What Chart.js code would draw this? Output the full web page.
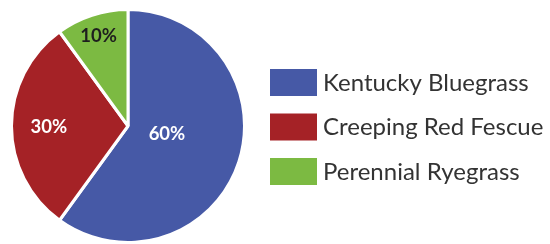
<!DOCTYPE html>
<html>
<head>
<meta charset="utf-8">
<script src="https://cdn.jsdelivr.net/npm/chart.js@4/dist/chart.umd.min.js"></script>
<style>
  html, body { margin: 0; padding: 0; background: #fff; }
  #wrap { width: 550px; height: 244px; }
</style>
</head>
<body>
<div id="wrap"><canvas id="grassChart" width="550" height="244"></canvas></div>
<script>
// 草种比例
const grassTypes = ['Kentucky Bluegrass', 'Creeping Red Fescue', 'Perennial Ryegrass'];
const grassShares = [60, 30, 10];
const sliceColors = ['#4659a6', '#a52226', '#7cba42'];

// 切片标签: 半径比例 / 角度微调 / 文字颜色
const labelRadius = [0.34, 0.68, 0.82];
const labelAngleShift = [-0.13, 0, 0];
const labelColors = ['#ffffff', '#ffffff', '#1e1e1e'];

const sliceLabels = {
    id: 'sliceLabels',
    afterDatasetsDraw(chart) {
        const ctx = chart.ctx;
        const meta = chart.getDatasetMeta(0);
        ctx.save();
        ctx.font = 'bold 18.5px Lato';
        ctx.textAlign = 'center';
        ctx.textBaseline = 'middle';
        meta.data.forEach((arc, i) => {
            const p = arc.getProps(['x', 'y', 'startAngle', 'endAngle', 'outerRadius'], true);
            const a = (p.startAngle + p.endAngle) / 2 + labelAngleShift[i];
            const r = p.outerRadius * labelRadius[i];
            ctx.fillStyle = labelColors[i];
            ctx.fillText(grassShares[i] + '%', p.x + Math.cos(a) * r, p.y + Math.sin(a) * r + 1);
        });
        ctx.restore();
    }
};

// 右侧图例
const sideLegend = {
    id: 'sideLegend',
    afterDraw(chart) {
        const ctx = chart.ctx;
        ctx.save();
        ctx.font = '24px Lato';
        ctx.textBaseline = 'middle';
        grassTypes.forEach((name, i) => {
            const top = 69 + i * 44.5;
            ctx.fillStyle = sliceColors[i];
            ctx.fillRect(270, top, 47, 27);
            ctx.fillStyle = '#333333';
            ctx.fillText(name, 323, top + 14);
        });
        ctx.restore();
    }
};

new Chart(document.getElementById('grassChart'), {
    type: 'pie',
    data: {
        labels: grassTypes,
        datasets: [{
            data: grassShares,
            backgroundColor: sliceColors,
            borderColor: '#ffffff',
            borderWidth: 3
        }]
    },
    options: {
        responsive: false,
        animation: false,
        layout: {
            padding: { left: 10, right: 304, top: 8, bottom: 0 }
        },
        plugins: {
            legend: { display: false },
            tooltip: { enabled: false }
        }
    },
    plugins: [sliceLabels, sideLegend]
});
</script>
</body>
</html>
